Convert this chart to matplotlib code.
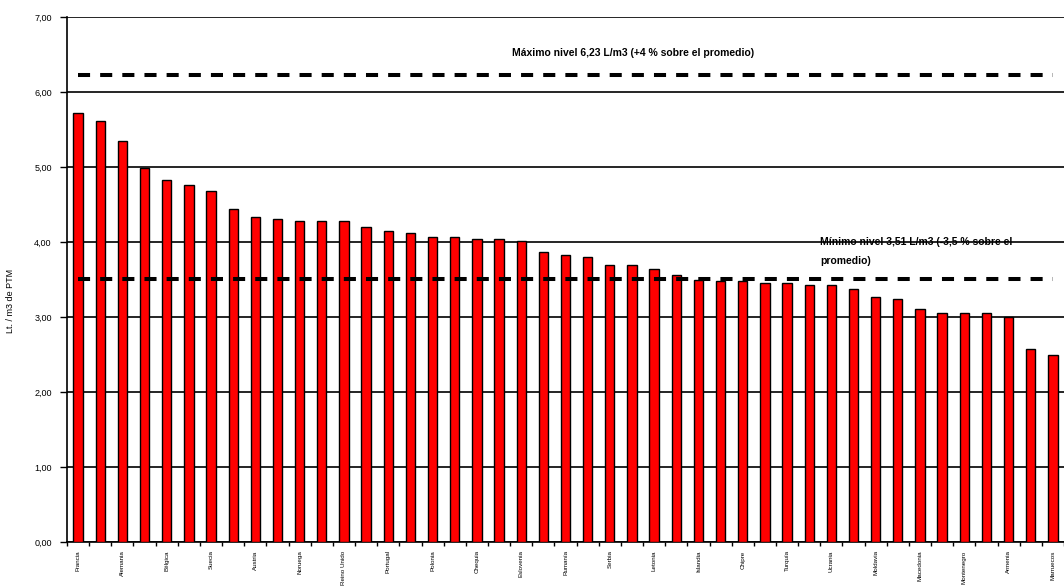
import matplotlib
matplotlib.use("Agg")
import matplotlib.pyplot as plt
import numpy as np

plt.rcParams['font.family'] = ['Liberation Sans', 'DejaVu Sans']

# lectura aproximada del grafico original
paises = ["Francia", "Irlanda", "Alemania", "Holanda", "Bélgica", "Italia", "Suecia", "Dinamarca",
          "Austria", "Suiza", "Noruega", "Finlandia", "Reino Unido", "España", "Portugal", "Grecia",
          "Polonia", "Hungría", "Chequia", "Eslovaquia", "Eslovenia", "Croacia", "Rumanía", "Bulgaria",
          "Serbia", "Estonia", "Letonia", "Lituania", "Islandia", "Luxemburgo", "Chipre", "Malta",
          "Turquía", "Rusia", "Ucrania", "Bielorrusia", "Moldavia", "Albania", "Macedonia", "Bosnia",
          "Montenegro", "Georgia", "Armenia", "Israel", "Marruecos"]
valores = [5.72, 5.61, 5.35, 4.99, 4.82, 4.76, 4.68, 4.44, 4.33, 4.30, 4.28, 4.28, 4.28,
           4.20, 4.15, 4.12, 4.07, 4.07, 4.04, 4.04, 4.01, 3.86, 3.83, 3.80, 3.69, 3.69,
           3.64, 3.56, 3.49, 3.48, 3.48, 3.45, 3.45, 3.42, 3.42, 3.37, 3.26, 3.24, 3.10,
           3.05, 3.05, 3.05, 3.00, 2.57, 2.49]
nivel_max = 6.23
nivel_min = 3.51
texto_max = "Máximo nivel 6,23 L/m3 (+4 % sobre el promedio)"
texto_min_1 = "Mínimo nivel 3,51 L/m3 (-3,5 % sobre el"
texto_min_2 = "promedio)"
etiqueta_y = "Lt. / m3 de PTM"

fig = plt.figure(figsize=(10.64, 5.86), dpi=100)
ax = fig.add_axes([0.063, 0.0751, 0.937, 0.896])

x = np.arange(len(valores))
ax.bar(x, valores, width=0.42, color="#ff0000", edgecolor="black", linewidth=1.0, zorder=3)

# lineas de referencia
ax.plot([0, 44.0], [nivel_max, nivel_max], color="black", lw=2.9,
        linestyle=(0, (3, 2.5)), zorder=4)
ax.plot([0, 44.0], [nivel_min, nivel_min], color="black", lw=2.9,
        linestyle=(0, (3, 2.5)), zorder=4)
ax.text(25.05, 6.52, texto_max, fontsize=7.5, fontweight="bold",
        ha="center", va="center", zorder=5)
ax.text(33.5, 4.0, texto_min_1, fontsize=7.5, fontweight="bold",
        ha="left", va="center", zorder=0.5)
ax.text(33.5, 3.75, texto_min_2, fontsize=7.5, fontweight="bold",
        ha="left", va="center", zorder=5)

ax.set_ylim(0, 7)
ax.set_xlim(-0.45, 44.18)
ax.set_yticks(np.arange(0, 8))
ax.set_yticklabels([f"{v:.2f}".replace(".", ",") for v in range(8)], fontsize=6.5)
ax.yaxis.grid(True, color="black", linewidth=1.2, zorder=1)
ax.set_ylabel(etiqueta_y, fontsize=6.5, labelpad=14)
ax.yaxis.set_label_coords(-0.052, 0.46)

ax.set_xticks(x[::2])
ax.set_xticklabels(paises[::2], rotation=90, fontsize=4.5, va="top")
ax.tick_params(axis="x", length=0, pad=6)
ax.set_xticks(np.arange(-0.5, len(valores), 1), minor=True)
ax.tick_params(axis="x", which="minor", length=3, width=1)
ax.tick_params(axis="y", length=5, width=1, direction="out", pad=6)

for s in ["top", "right"]:
    ax.spines[s].set_visible(False)
ax.spines["left"].set_linewidth(1.2)
ax.spines["bottom"].set_linewidth(1.2)

fig.savefig("out.png", dpi=100)
